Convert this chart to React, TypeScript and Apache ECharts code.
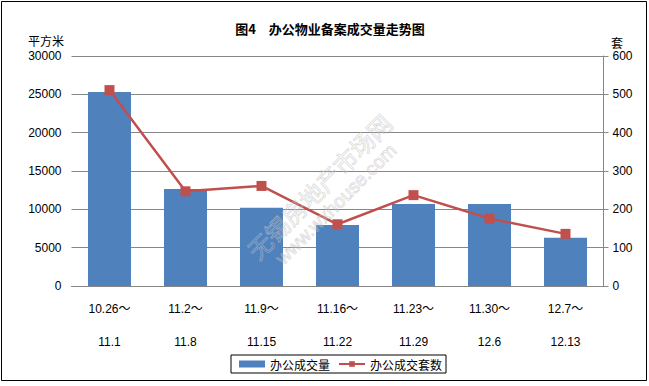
import React, { useEffect, useRef } from "react";
import * as echarts from "echarts";

const periodStart = ["10.26～", "11.2～", "11.9～", "11.16～", "11.23～", "11.30～", "12.7～"];
const periodEnd = ["11.1", "11.8", "11.15", "11.22", "11.29", "12.6", "12.13"];
const areaValues = [25300, 12650, 10200, 7950, 10700, 10700, 6300];
const unitValues = [511, 247, 261, 161, 237, 176, 136];
const leftTicks = [0, 5000, 10000, 15000, 20000, 25000, 30000];
const rightTicks = [0, 100, 200, 300, 400, 500, 600];

const FONT = "'Liberation Sans', 'Noto Sans CJK SC', sans-serif";
const CJK = "'Noto Sans CJK SC', sans-serif";

export default function App() {
  const ref = useRef<HTMLDivElement>(null);
  useEffect(() => {
    document.body.style.margin = "0";
    const chart = echarts.init(ref.current!, null, { renderer: "svg" });
    const categories = periodStart.map((s, i) => s + "\n" + periodEnd[i]);
    chart.setOption({
      animation: false,
      backgroundColor: "#fff",
      textStyle: { fontFamily: FONT },
      title: {
        text: "图4　办公物业备案成交量走势图",
        left: 325,
        top: 17,
        textAlign: "center",
        textStyle: { fontSize: 13, fontWeight: "bold", color: "#000", fontFamily: CJK },
      },
      grid: { left: 71.5, right: 45.5, top: 56, bottom: 100, containLabel: false },
      legend: {
        left: 231,
        top: 355,
        itemWidth: 26,
        itemHeight: 7,
        itemGap: 8,
        padding: [3, 4, 3, 8],
        borderColor: "#000",
        borderWidth: 1,
        backgroundColor: "#fff",
        textStyle: { fontSize: 12, color: "#000", fontFamily: CJK },
        data: [
          { name: "办公成交量", icon: "rect" },
          { name: "办公成交套数" },
        ],
      },
      xAxis: {
        type: "category",
        data: categories,
        axisLine: { lineStyle: { color: "#868686" } },
        axisTick: { show: false },
        axisLabel: { color: "#000", fontSize: 12, lineHeight: 33, margin: 6, interval: 0 },
      },
      yAxis: [
        {
          type: "value",
          min: leftTicks[0],
          max: leftTicks[leftTicks.length - 1],
          interval: 5000,
          axisLine: { show: false },
          axisTick: { show: false },
          axisLabel: { color: "#000", fontSize: 12, margin: 10, formatter: (v: number) => String(v) },
          splitLine: { lineStyle: { color: "#868686", width: 1 } },
        },
        {
          type: "value",
          min: rightTicks[0],
          max: rightTicks[rightTicks.length - 1],
          interval: 100,
          axisLine: { show: true, lineStyle: { color: "#868686" } },
          axisTick: { show: true, length: 5, lineStyle: { color: "#868686" } },
          axisLabel: { color: "#000", fontSize: 12, margin: 9, formatter: (v: number) => String(v) },
          splitLine: { show: false },
        },
      ],
      series: [
        {
          name: "办公成交量",
          type: "bar",
          data: areaValues,
          barWidth: 43,
          itemStyle: { color: "#4F81BD" },
          z: 2,
        },
        {
          name: "办公成交套数",
          type: "line",
          yAxisIndex: 1,
          data: unitValues,
          symbol: "rect",
          symbolSize: 10,
          lineStyle: { color: "#C0504D", width: 2.5 },
          itemStyle: { color: "#C0504D" },
          z: 3,
        },
      ],
      graphic: [
        {
          type: "rect",
          shape: { x: 1.5, y: 1.5, width: 645, height: 379 },
          style: { fill: "none", stroke: "#000", lineWidth: 1 },
          silent: true,
        },
        {
          type: "text",
          x: 46,
          y: 40,
          style: { text: "平方米", fill: "#000", fontSize: 12, align: "center", verticalAlign: "middle", fontFamily: CJK },
        },
        {
          type: "text",
          x: 617,
          y: 42,
          style: { text: "套", fill: "#000", fontSize: 12, align: "center", verticalAlign: "middle", fontFamily: CJK },
        },
        {
          type: "text",
          x: 319,
          y: 186,
          rotation: Math.PI / 4,
          z: 10,
          silent: true,
          style: { text: "无锡房地产市场网", fill: "none", stroke: "rgba(195,195,195,0.6)", lineWidth: 0.8, fontSize: 24, align: "center", verticalAlign: "middle", fontFamily: CJK },
        },
        {
          type: "text",
          x: 336,
          y: 204,
          rotation: Math.PI / 4,
          z: 10,
          silent: true,
          style: { text: "www.wxhouse.com", fill: "none", stroke: "rgba(195,195,195,0.6)", lineWidth: 0.8, fontSize: 19, align: "center", verticalAlign: "middle", fontFamily: FONT },
        },
      ],
    });
    return () => chart.dispose();
  }, []);
  return <div ref={ref} style={{ width: 649, height: 386 }} />;
}
